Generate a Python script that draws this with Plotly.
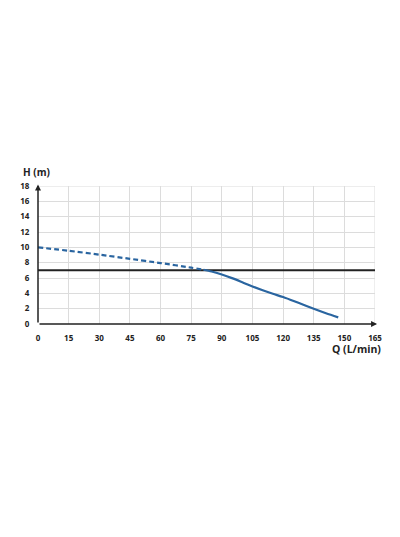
import plotly.graph_objects as go

# Data
q_dashed = [0, 15, 30, 45, 60, 75, 81]
h_dashed = [10.0, 9.55, 9.05, 8.5, 7.95, 7.35, 7.08]
q_solid = [81, 85, 90, 95, 100, 105, 110, 115, 120, 127.5, 135, 141, 147]
h_solid = [7.08, 6.85, 6.45, 5.98, 5.45, 4.9, 4.4, 3.94, 3.52, 2.76, 1.98, 1.4, 0.86]
required_head = 7
x_ticks = [0, 15, 30, 45, 60, 75, 90, 105, 120, 135, 150, 165]
y_ticks = [0, 2, 4, 6, 8, 10, 12, 14, 16, 18]

blue = "#2a65a0"
font_family = "'Open Sans', 'DejaVu Sans', sans-serif"

fig = go.Figure()
fig.add_trace(go.Scatter(x=[0, 165], y=[required_head, required_head], mode="lines",
                         line=dict(color="#222222", width=2), hoverinfo="skip"))
fig.add_trace(go.Scatter(x=q_dashed, y=h_dashed, mode="lines",
                         line=dict(color=blue, width=2.2, dash="5px,3px", shape="spline", smoothing=0.6)))
fig.add_trace(go.Scatter(x=q_solid, y=h_solid, mode="lines",
                         line=dict(color=blue, width=2.2, shape="spline", smoothing=0.8)))

tf = dict(size=8, family=font_family, weight="bold", color="#222222")
fig.update_layout(
    width=400, height=537,
    margin=dict(l=27, r=33, t=178, b=221),
    paper_bgcolor="white", plot_bgcolor="white",
    showlegend=False,
    font=dict(family=font_family, size=9, color="#222222"),
    xaxis=dict(range=[0, 165], tickvals=x_ticks, ticktext=[str(v) for v in x_ticks],
               showgrid=True, gridcolor="#dcdcdc", gridwidth=1, zeroline=False,
               showline=False, ticks="outside", ticklen=6, tickcolor="rgba(0,0,0,0)",
               tickfont=tf),
    yaxis=dict(range=[0, 18], tickvals=y_ticks, ticktext=[str(v) for v in y_ticks],
               showgrid=True, gridcolor="#dcdcdc", gridwidth=1, zeroline=False,
               showline=False, ticks="outside", ticklen=6, tickcolor="rgba(0,0,0,0)",
               tickfont=tf),
)
# right and top border gridlines
fig.add_shape(type="line", xref="x", yref="y", x0=0, x1=165, y0=18, y1=18,
              line=dict(color="#dcdcdc", width=1), layer="below")
fig.add_shape(type="line", xref="x", yref="y", x0=165, x1=165, y0=0, y1=18,
              line=dict(color="#dcdcdc", width=1), layer="below")

# axes with arrows
fig.add_annotation(x=166, y=0, ax=0, ay=0, xref="x", yref="y", axref="x", ayref="y",
                   showarrow=True, arrowhead=2, arrowsize=0.8, arrowwidth=1.5,
                   arrowcolor="#222222", text="")
fig.add_annotation(x=0, y=18.2, ax=0, ay=0, xref="x", yref="y", axref="x", ayref="y",
                   showarrow=True, arrowhead=2, arrowsize=0.8, arrowwidth=1.5,
                   arrowcolor="#222222", text="")

fig.add_annotation(x=0.0, y=1.0, xref="paper", yref="paper", xanchor="center", yanchor="bottom",
                   xshift=-2, yshift=5, showarrow=False, text="<b>H (m)</b>",
                   font=dict(size=10, family=font_family, color="#222222"))
fig.add_annotation(x=1.0, y=0.0, xref="paper", yref="paper", xanchor="right", yanchor="top",
                   xshift=8, yshift=-16, showarrow=False, text="<b>Q (L/min)</b>",
                   font=dict(size=10.5, family=font_family, color="#222222"))

fig.write_html("out.html")
